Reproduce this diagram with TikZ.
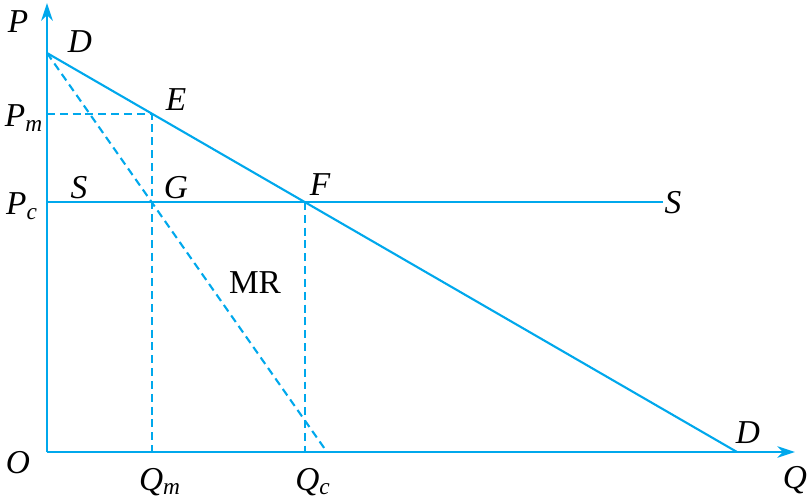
\documentclass[tikz,border=0pt]{standalone}
\usepackage{fontspec}
\setmainfont{Liberation Serif}
\usetikzlibrary{arrows.meta}
\definecolor{econblue}{RGB}{0,168,236}
\begin{document}
\begin{tikzpicture}[x=0.02cm,y=-0.02cm,
    axis/.style={econblue,line width=1.5pt,-{Stealth[length=10pt,width=6.5pt,inset=3pt]}},
    curve/.style={econblue,line width=1.2pt},
    guide/.style={econblue,line width=1.2pt,dash pattern=on 4.5pt off 2.8pt},
    lbl/.style={font=\fontsize{19}{22}\selectfont\itshape,inner sep=0pt}]
    \useasboundingbox (0,0) rectangle (810,498);

    %punti principali
    \coordinate (O) at (47,452);
    \coordinate (ytop) at (47,3);
    \coordinate (xend) at (795,452);
    \coordinate (D1) at (47,53);
    \coordinate (D2) at (737,452);
    \coordinate (E) at (152,114);
    \coordinate (G) at (152,202);
    \coordinate (F) at (305,202);
    \coordinate (Pm) at (47,114);
    \coordinate (Pc) at (47,202);
    \coordinate (S2) at (663,202);
    \coordinate (Qm) at (152,452);
    \coordinate (Qc) at (305,452);
    \coordinate (MRend) at (327,452);

    %assi
    \draw[axis] (O) -- (ytop);
    \draw[axis] (O) -- (xend);

    %domanda, offerta e ricavo marginale
    \draw[curve] (D1) -- (D2);
    \draw[curve] (Pc) -- (S2);
    \draw[guide] (D1) -- (MRend);

    %linee tratteggiate
    \draw[guide] (Pm) -- (E) -- (Qm);
    \draw[guide] (F) -- (Qc);

    %etichette
    \node[lbl] (lP) at (18,22) {P};
    \node[lbl] (lD1) at (80,42) {D};
    \node[lbl] (lE) at (176,100) {E};
    \node[lbl] (lPm) at (24,118) {P\textsubscript{m}};
    \node[lbl] (lPc) at (22,206) {P\textsubscript{c}};
    \node[lbl] (lS1) at (79,188) {S};
    \node[lbl] (lG) at (176,188) {G};
    \node[lbl] (lF) at (320,185) {F};
    \node[lbl] (lS2) at (673,203) {S};
    \node[lbl,font=\fontsize{19}{22}\selectfont] (lMR) at (255,283) {MR};
    \node[lbl] (lD2) at (748,433) {D};
    \node[lbl] (lO) at (18,463) {O};
    \node[lbl] (lQm) at (160,482) {Q\textsubscript{m}};
    \node[lbl] (lQc) at (313,482) {Q\textsubscript{c}};
    \node[lbl] (lQ) at (795,480) {Q};
\end{tikzpicture}
\end{document}
